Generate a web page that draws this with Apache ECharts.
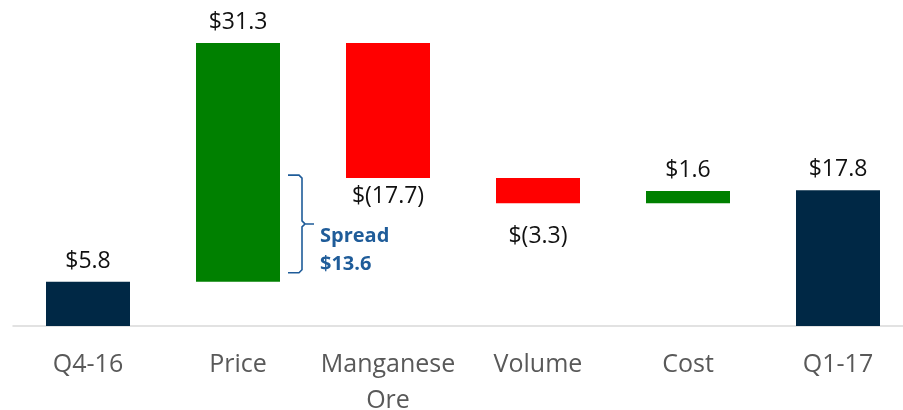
<!DOCTYPE html>
<html>
<head>
<meta charset="utf-8">
<script src="https://cdn.jsdelivr.net/npm/echarts@6/dist/echarts.min.js"></script>
<style>
  body { margin: 0; background: #fff; }
  #main { width: 903px; height: 410px; }
</style>
</head>
<body>
<div id="main"></div>
<script>
var categories = ['Q4-16', 'Price', 'Manganese\nOre', 'Volume', 'Cost', 'Q1-17'];
var baseValues = [0, 5.8, 19.4, 16.1, 16.1, 0];
var barValues = [5.8, 31.3, 17.7, 3.3, 1.6, 17.8];
var barLabels = ['$5.8', '$31.3', '$(17.7)', '$(3.3)', '$1.6', '$17.8'];
var barKinds = ['total', 'up', 'down', 'down', 'up', 'total'];
var spreadLabel = ['Spread', '$13.6'];

var kindColor = { total: '#002845', up: '#008000', down: '#ff0000' };
var font = '"Open Sans", sans-serif';

var chart = echarts.init(document.getElementById('main'));

var visibleData = barValues.map(function (v, i) {
  var k = barKinds[i];
  var below = k === 'down';
  return {
    value: v,
    itemStyle: { color: kindColor[k] },
    label: {
      show: true,
      position: below ? 'bottom' : 'top',
      distance: below ? (i === 3 ? 22 : 7) : 9,
      formatter: barLabels[i]
    }
  };
});

var option = {
  animation: false,
  grid: { left: 13, width: 900, top: 21, bottom: 84, outerBoundsMode: 'none', containLabel: false },
  xAxis: {
    type: 'category',
    data: categories,
    axisLine: { lineStyle: { color: '#d9d9d9', width: 1.5 } },
    axisTick: { show: false },
    axisLabel: {
      color: '#595959',
      fontFamily: font,
      fontSize: 25,
      margin: 21,
      lineHeight: 36,
      interval: 0
    }
  },
  yAxis: {
    type: 'value',
    min: 0,
    max: 40,
    show: false,
    splitLine: { show: false }
  },
  series: [{
    type: 'bar',
    stack: 'w',
    data: baseValues,
    barWidth: 84,
    itemStyle: { color: 'transparent' },
    silent: true
  }, {
    type: 'bar',
    stack: 'w',
    data: visibleData,
    barWidth: 84,
    label: {
      color: '#111',
      fontFamily: font,
      fontSize: 23
    }
  }]
};
chart.setOption(option);

// curly bracket beside the Price bar, spanning Price base to Manganese Ore bottom
var pTop = chart.convertToPixel({ xAxisIndex: 0, yAxisIndex: 0 }, [1, baseValues[2]]);
var pBot = chart.convertToPixel({ xAxisIndex: 0, yAxisIndex: 0 }, [1, baseValues[1]]);
var barRight = pTop[0] + 42;
var x0 = barRight + 8;
var xv = barRight + 22;
var xt = barRight + 34;
var yT = pTop[1] - 3;
var yB = pBot[1] - 9;
var yM = (yT + yB) / 2;
chart.setOption({
  graphic: [{
    type: 'polyline',
    shape: {
      points: [[x0, yT], [xv - 3, yT], [xv, yT + 3], [xv, yM - 3], [xv + 3, yM],
        [xt, yM], [xv + 3, yM], [xv, yM + 3], [xv, yB - 3], [xv - 3, yB], [x0, yB]]
    },
    style: { stroke: '#1f5c99', lineWidth: 1.6, fill: null }
  }, {
    type: 'text',
    left: barRight + 40,
    top: yM - 2,
    style: {
      text: spreadLabel.join('\n'),
      fill: '#1f5c99',
      font: 'bold 20px ' + font,
      lineHeight: 28
    }
  }]
});
</script>
</body>
</html>
